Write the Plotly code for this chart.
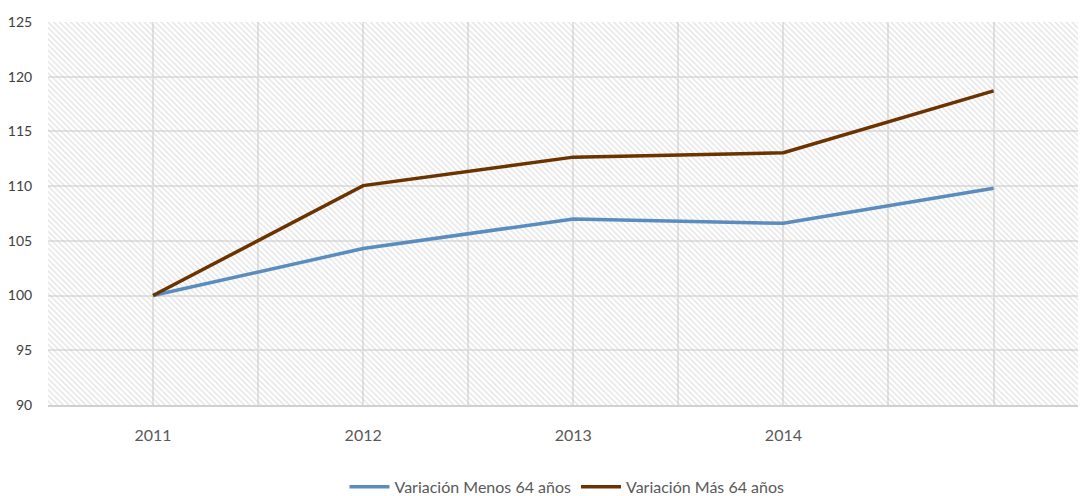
import plotly.graph_objects as go

YEARS = ["2011", "2012", "2013", "2014", "2015"]
TICK_LABELS = ["2011", "2012", "2013", "2014", ""]
MENOS_64 = [100, 104.3, 107.0, 106.6, 109.8]
MAS_64 = [100, 110.05, 112.65, 113.05, 118.7]

FONT = "Lato, Roboto, sans-serif"
X_RANGE = [-0.5, 4.44]
Y_RANGE = [90, 125]

xs = list(range(len(YEARS)))

fig = go.Figure()

# hatched plot background
fig.add_trace(go.Scatter(
    x=[X_RANGE[0], X_RANGE[1], X_RANGE[1], X_RANGE[0], X_RANGE[0]],
    y=[Y_RANGE[0], Y_RANGE[0], Y_RANGE[1], Y_RANGE[1], Y_RANGE[0]],
    fill="toself", mode="none", hoverinfo="skip", showlegend=False,
    fillcolor="rgba(0,0,0,0)",
    fillpattern=dict(shape="\\", fgcolor="#c8c8c8", bgcolor="rgba(0,0,0,0)",
                     size=4, solidity=0.35),
))

fig.add_trace(go.Scatter(x=xs, y=MENOS_64, mode="lines", name="Variación Menos 64 años",
                         line=dict(color="#5A8DBE", width=3.5)))
fig.add_trace(go.Scatter(x=xs, y=MAS_64, mode="lines", name="Variación Más 64 años",
                         line=dict(color="#6B3300", width=3.5)))

# page body has an 8px margin, so the figure is sized to the visible area
fig.update_layout(
    width=1078, height=488,
    margin=dict(l=40, r=0, t=14, b=91, autoexpand=False),
    plot_bgcolor="white", paper_bgcolor="white",
    font=dict(family=FONT, color="#595959", size=14),
    legend=dict(orientation="h", x=0.5, xanchor="center", y=-0.214, yanchor="middle",
                font=dict(size=16, color="#595959"), itemwidth=40),
    xaxis=dict(range=X_RANGE, tickvals=xs, ticktext=TICK_LABELS, automargin=False,
               showgrid=True, gridcolor="#e3e3e3", gridwidth=1.5,
               minor=dict(tick0=0, dtick=0.5, showgrid=True, gridcolor="#e3e3e3", gridwidth=1.5),
               showline=True, linecolor="#d0d0d0", linewidth=2,
               ticks="outside", ticklen=15, tickcolor="rgba(0,0,0,0)",
               tickfont=dict(size=16, color="#595959"), zeroline=False),
    yaxis=dict(range=Y_RANGE, dtick=5, automargin=False,
               showgrid=True, gridcolor="#e3e3e3", gridwidth=1.5,
               ticks="outside", ticklen=12, tickcolor="rgba(0,0,0,0)",
               tickfont=dict(size=14, color="#404040"), zeroline=False),
)

fig.write_html("out.html")
